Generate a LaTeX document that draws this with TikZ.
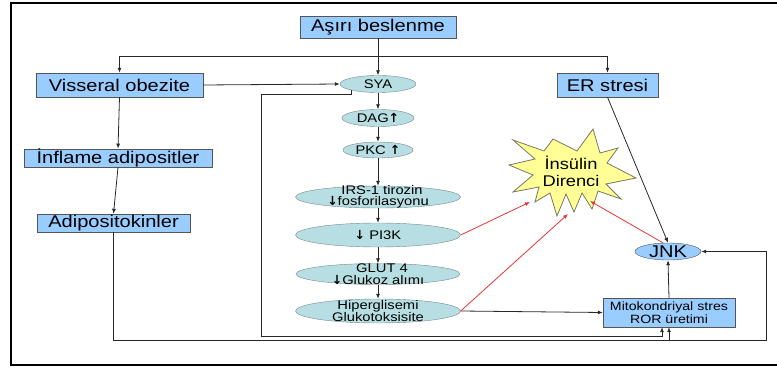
\documentclass[tikz,border=0pt]{standalone}
\usepackage{fontspec}
\setmainfont{Liberation Sans}[FakeStretch=1.18]
\newfontfamily\arrowfont{DejaVu Sans}
\usetikzlibrary{shapes.geometric,arrows.meta}

\definecolor{boxblue}{RGB}{153,204,255}
\definecolor{boxline}{RGB}{85,85,85}
\definecolor{ellteal}{RGB}{183,222,226}
\definecolor{ellline}{RGB}{120,135,140}
\definecolor{connline}{RGB}{40,40,40}
\definecolor{redline}{RGB}{232,52,52}
\definecolor{burstfill}{RGB}{255,255,150}
\definecolor{burstline}{RGB}{120,120,100}

\newcommand{\uparr}{{\arrowfont\bfseries ↑}}
\newcommand{\downarr}{{\arrowfont\bfseries ↓}}

\tikzset{
  box/.style={draw=boxline, fill=boxblue, inner sep=0pt, align=center,
    font=\fontsize{17}{18}\selectfont},
  smallbox/.style={box, font=\fontsize{12}{13}\selectfont},
  elltext/.style={inner sep=0pt, align=center, font=\fontsize{12.5}{11.5}\selectfont},
  ell/.style={ellipse, draw=ellline, fill=ellteal, inner sep=0pt,
    label={[elltext]center:{#1}}},
  conn/.style={draw=connline, line width=0.8pt},
  arr/.style={conn, -{Latex[length=5pt,width=4pt]}},
  redarr/.style={draw=redline, line width=0.8pt, -{Latex[length=5pt,width=4pt]}},
  burst/.style={draw=burstline, fill=burstfill, line width=0.8pt, line join=miter},
}

\begin{document}
\begin{tikzpicture}[x=1pt,y=-1pt]
\useasboundingbox (0,0) rectangle (777,369);
% frame
\draw[line width=2.5pt] (777,3) -- (11,3) -- (11,365) -- (777,365);

% left column and top
\node[box, minimum width=156pt, minimum height=22pt] (asiri) at (378,27) {Aşırı beslenme};
\node[box, minimum width=167pt, minimum height=24pt] (visseral) at (119.5,85) {Visseral obezite};
\node[box, minimum width=188pt, minimum height=18pt] (inflame) at (118,158) {İnflame adipositler};
\node[box, minimum width=153pt, minimum height=18pt] (adipo) at (113.5,223) {Adipositokinler};
\node[box, minimum width=101pt, minimum height=24pt] (er) at (607.5,85) {ER stresi};

% middle chain
\node[ell={SYA}, minimum width=76pt, minimum height=17pt] (sya) at (378,84) {};
\node[ell={DAG\uparr}, minimum width=72pt, minimum height=17pt] (dag) at (378,118) {};
\node[ell={PKC \uparr}, minimum width=70pt, minimum height=16pt] (pkc) at (378,150) {};
\node[ell={\hspace*{8pt}IRS-1 tirozin\\\downarr fosforilasyonu}, minimum width=165pt, minimum height=22pt] (irs) at (378,197) {};
\node[ell={\downarr\ PI3K}, minimum width=165pt, minimum height=24pt] (pi3k) at (378,235) {};
\node[ell={\hspace*{8pt}GLUT 4\\\downarr Glukoz alımı}, minimum width=164pt, minimum height=21pt] (glut) at (378,274) {};
\node[ell={Hiperglisemi\\Glukotoksisite}, minimum width=165pt, minimum height=24pt] (hiper) at (378,311) {};

% right side
\node[ellipse, draw=boxline, fill=boxblue, inner sep=0pt, minimum width=66pt, minimum height=17pt,
  font=\fontsize{17}{18}\selectfont] (jnk) at (668,251.5) {JNK};
\node[smallbox, minimum width=132pt, minimum height=29pt] (mito) at (669,312.5) {Mitokondriyal stres\\ROR üretimi};

% insulin resistance burst
\filldraw[burst] (593,129) -- (600,153) -- (618,148) -- (607,163) -- (636,178) -- (606,184)
  -- (621,199) -- (598,191) -- (592,209) -- (582,193) -- (574,212) -- (566,194)
  -- (557,216) -- (550,193) -- (535,202) -- (539,187) -- (513,192) -- (533,175)
  -- (509,165) -- (535,159) -- (513,140) -- (544,151) -- (553,139) -- (577,151) -- cycle;
\node[align=center, inner sep=0pt, font=\fontsize{15.5}{17}\selectfont] (ins) at (571,171) {İnsülin\\Direnci};
\coordinate (ins-l) at (530,202);
\coordinate (ins-b) at (568,214);
\coordinate (ins-r) at (590,201);

% connectors
\coordinate (split) at (378,56);
\draw[arr] (asiri.south) -- (sya.north);
\draw[arr] (split) -| (visseral.north);
\draw[arr] (split) -| (er.north);
\draw[arr] (visseral.east) -- (sya.west);
\draw[arr] (visseral.south) -- (inflame.north);
\draw[arr] (inflame.south) -- (adipo.north);
\draw[arr] (sya) -- (dag);
\draw[arr] (dag) -- (pkc);
\draw[arr] (pkc) -- (irs);
\draw[arr] (irs) -- (pi3k);
\draw[arr] (pi3k) -- (glut);
\draw[arr] (glut) -- (hiper);
\draw[arr] (er.south) -- (jnk.north);
\draw[arr] (hiper.east) -- (mito.west);
\draw[arr] (mito.north) -- (jnk.south);

% feedback lines at the bottom
\coordinate (fb1) at (261,94);
\coordinate (fb2) at (261,336);
\coordinate (fb3) at (766,340);
\draw[arr] (sya.south west) |- (fb1) -- (fb2) -| ([xshift=-7pt]mito.south);
\draw[arr] (adipo.south) |- (fb3) |- (jnk.east);
\draw[arr] (mito.south |- fb3) -- (mito.south);

% to insulin resistance
\draw[redarr] (pi3k.east) -- (ins-l);
\draw[redarr] (hiper.east) -- (ins-b);
\draw[redarr] (jnk.120) -- (ins-r);

\end{tikzpicture}
\end{document}
